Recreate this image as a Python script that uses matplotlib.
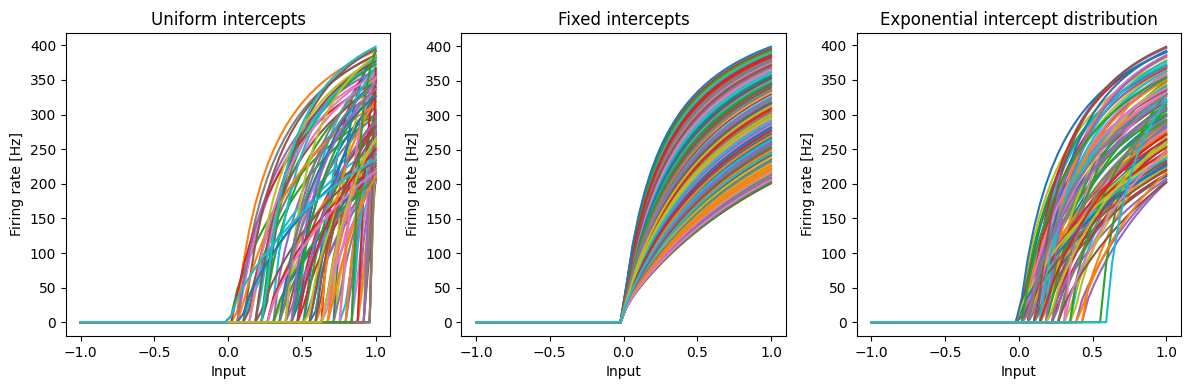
import numpy as np
import matplotlib
matplotlib.use("Agg")
import matplotlib.pyplot as plt

# ---- data: per-neuron intercepts and max firing rates (Hz) ----
uniform_intercepts = [
    0.52, 0.06, 0.02, 0.66, 0.31, 0.94, 0.08, 0.08, 0.72, 0.21,
    0.59, 0.98, 0.37, 0.04, 0.81, 0.26, 0.69, 0.15, 0.91, 0.48,
    0.33, 0.77, 0.12, 0.64, 0.88, 0.41, 0.19, 0.56, 0.96, 0.11,
    0.73, 0.29, 0.84, 0.50, 0.07, 0.62, 0.39, 0.93, 0.17, 0.79,
    0.44, 0.68, 0.25, 0.99, 0.54, 0.12, 0.86, 0.35, 0.71, 0.13,
    0.58, 0.90, 0.23, 0.47, 0.82, 0.14, 0.65, 0.38, 0.97, 0.30,
    0.46, 0.09, 0.53, 0.89, 0.42, 0.20, 0.67, 0.95, 0.34, 0.61,
    0.46, 0.80, 0.46, 0.27, 0.92, 0.57, 0.16, 0.74, 0.40, 0.85,
    0.10, 0.63, 0.32, 0.97, 0.49, 0.22, 0.78, 0.97, 0.55, 0.25,
    0.36, 0.70, 0.85, 0.48, 0.43, 0.60, 0.28, 0.38, 0.66, 0.02]
uniform_rates = [
    312, 392, 300, 271, 336, 208, 359, 385, 227, 374,
    263, 301, 219, 347, 282, 395, 238, 322, 256, 368,
    205, 341, 296, 383, 231, 277, 352, 214, 329, 266,
    391, 249, 306, 222, 364, 287, 333, 242, 379, 210,
    318, 258, 344, 275, 201, 386, 235, 299, 361, 254,
    326, 217, 372, 284, 247, 339, 203, 356, 268, 381,
    229, 314, 293, 349, 212, 377, 260, 308, 238, 366,
    350, 252, 331, 225, 303, 272, 358, 216, 385, 279,
    243, 320, 207, 367, 290, 234, 354, 298, 262, 398,
    327, 211, 392, 250, 337, 283, 218, 345, 265, 235]

fixed_intercept = 0.0
fixed_rates = [
    283, 351, 217, 396, 262, 330, 241, 374, 209, 315,
    367, 228, 299, 344, 253, 388, 204, 321, 276, 359,
    236, 392, 268, 311, 222, 347, 286, 380, 213, 338,
    259, 371, 246, 302, 335, 201, 364, 279, 225, 390,
    318, 249, 357, 271, 207, 343, 295, 382, 231, 326,
    266, 377, 214, 353, 288, 242, 376, 305, 219, 362,
    273, 334, 256, 386, 210, 317, 293, 369, 238, 349,
    281, 226, 394, 308, 261, 340, 216, 378, 297, 245,
    355, 270, 203, 384, 324, 252, 366, 233, 313, 291,
    399, 221, 346, 277, 258, 372, 206, 336, 301, 264]

exp_intercepts = [
    0.03, 0.18, 0.02, 0.11, 0.40, 0.08, 0.15, 0.07, 0.27, 0.06,
    0.13, 0.18, 0.03, 0.09, 0.44, 0.00, 0.24, 0.07, 0.12, 0.25,
    0.04, 0.16, 0.30, 0.02, 0.10, 0.20, 0.06, 0.14, 0.01, 0.36,
    0.08, 0.19, 0.03, 0.25, 0.11, 0.05, 0.17, 0.28, 0.09, 0.02,
    0.13, 0.43, 0.04, 0.07, 0.22, 0.01, 0.15, 0.10, 0.34, 0.06,
    0.12, 0.03, 0.19, 0.08, 0.26, 0.02, 0.14, 0.05, 0.38, 0.11,
    0.00, 0.17, 0.555, 0.23, 0.04, 0.13, 0.31, 0.09, 0.21, 0.03,
    0.16, 0.06, 0.21, 0.01, 0.10, 0.29, 0.05, 0.14, 0.08, 0.18,
    0.01, 0.12, 0.35, 0.07, 0.20, 0.04, 0.11, 0.24, 0.00, 0.15,
    0.01, 0.42, 0.03, 0.17, 0.06, 0.13, 0.32, 0.08, 0.22, 0.595]
exp_rates = [
    370, 287, 371, 230, 205, 318, 262, 330, 241, 356,
    299, 276, 337, 214, 202, 252, 327, 293, 365, 236,
    309, 272, 348, 221, 396, 265, 332, 247, 376, 283,
    211, 359, 301, 239, 342, 270, 386, 258, 224, 323,
    352, 249, 291, 367, 207, 335, 278, 312, 243, 373,
    261, 329, 330, 391, 285, 233, 357, 305, 268, 340,
    226, 383, 330, 254, 320, 213, 362, 281, 345, 237,
    392, 274, 315, 245, 369, 202, 338, 289, 256, 378,
    228, 350, 307, 264, 385, 219, 331, 297, 240, 363,
    390, 216, 354, 272, 309, 398, 246, 327, 260, 320]

titles = ["Uniform intercepts", "Fixed intercepts",
          "Exponential intercept distribution"]

# ---- LIF tuning curves ----
tau_rc, tau_ref = 0.02, 0.002
x = np.linspace(-1, 1, 50)


def lif_curves(intercepts, rates):
    intercepts = np.asarray(intercepts, float)
    rates = np.asarray(rates, float)
    j_max = 1.0 / (1.0 - np.exp((tau_ref - 1.0 / rates) / tau_rc))
    gain = (j_max - 1.0) / (1.0 - intercepts)
    bias = 1.0 - gain * intercepts
    J = x[:, None] * gain[None, :] + bias[None, :]
    out = np.zeros_like(J)
    m = J > 1
    out[m] = 1.0 / (tau_ref + tau_rc * np.log1p(1.0 / (J[m] - 1.0)))
    return out


panels = [
    (uniform_intercepts, uniform_rates),
    ([fixed_intercept] * len(fixed_rates), fixed_rates),
    (exp_intercepts, exp_rates),
]

fig, axes = plt.subplots(1, 3, figsize=(11.89, 3.9), dpi=100)
fig.subplots_adjust(left=0.0555, right=0.9933, top=0.9154, bottom=0.1385,
                    wspace=0.2185)
for ax, (ic, rt), title in zip(axes, panels, titles):
    ax.plot(x, lif_curves(ic, rt))
    ax.set_title(title)
    ax.set_xlabel("Input")
    ax.set_ylabel("Firing rate [Hz]")
    ax.set_yticks(np.arange(0, 401, 50))
fig.savefig("out.png", dpi=100)
